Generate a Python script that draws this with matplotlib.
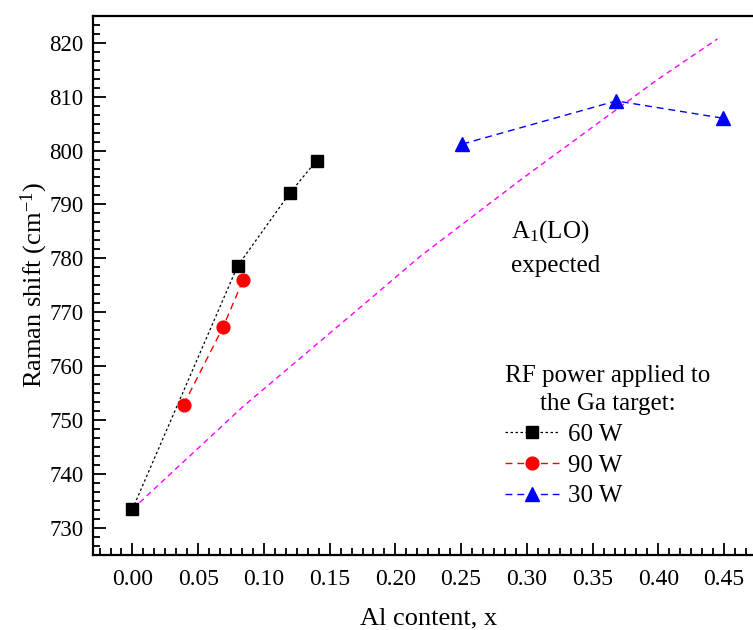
import matplotlib
matplotlib.use("Agg")
import matplotlib.pyplot as plt
from matplotlib.ticker import MultipleLocator, AutoMinorLocator, FormatStrFormatter

plt.rcParams['font.family'] = ['Liberation Serif', 'DejaVu Serif']
plt.rcParams['mathtext.fontset'] = 'custom'
plt.rcParams['mathtext.rm'] = 'Liberation Serif'
plt.rcParams['mathtext.it'] = 'Liberation Serif:italic'

# Al content and A1(LO) Raman shift for each Ga-target RF power
x_60w = [0.0, 0.080, 0.120, 0.140]
y_60w = [733.5, 778.6, 792.2, 798.1]

x_90w = [0.039, 0.069, 0.084]
y_90w = [752.9, 767.3, 775.9]

x_30w = [0.251, 0.368, 0.449]
y_30w = [801.2, 809.2, 806.0]

# expected A1(LO) position versus Al content
x_expected = [0.0, 0.084, 0.180, 0.219, 0.296, 0.399, 0.445]
y_expected = [733.5, 752.5, 772.3, 780.4, 794.7, 813.1, 820.7]

fig = plt.figure(figsize=(7.53, 6.30), dpi=100)
ax = fig.add_axes([93 / 753, 75 / 630, 670.5 / 753, 539.3 / 630])

ax.plot(x_expected, y_expected, color='#ff00ff', lw=1.0, dashes=(4, 3))
ax.plot(x_60w, y_60w, color='black', lw=0.9, dashes=(2, 2),
        marker='s', ms=8.6, mfc='black', mec='black', label='60 W')
ax.plot(x_90w, y_90w, color='red', lw=1.0, dashes=(5, 3.5),
        marker='o', ms=9.2, mfc='red', mec='red', label='90 W')
ax.plot(x_30w, y_30w, color='blue', lw=1.0, dashes=(5, 3.5),
        marker='^', ms=10.5, mfc='blue', mec='blue', label='30 W')

ax.set_xlim(-0.03, 0.48)
ax.set_ylim(725, 825)
ax.xaxis.set_major_locator(MultipleLocator(0.05))
ax.xaxis.set_major_formatter(FormatStrFormatter('%.2f'))
ax.xaxis.set_minor_locator(AutoMinorLocator(6))
ax.yaxis.set_major_locator(MultipleLocator(10))
ax.yaxis.set_minor_locator(AutoMinorLocator(6))

ax.tick_params(which='both', direction='in', top=False, right=False,
               width=1.3)
ax.tick_params(axis='x', labelsize=17)
ax.tick_params(axis='y', labelsize=16.5)
ax.tick_params(which='major', length=9)
ax.tick_params(axis='x', which='major', pad=10)
ax.tick_params(axis='y', which='major', pad=7)
ax.tick_params(which='minor', length=5)
for side in ax.spines.values():
    side.set_linewidth(1.6)

ax.set_xlabel('Al content, x', fontsize=19, labelpad=13)
ax.set_ylabel('Raman shift (cm$^{-1}$)', fontsize=19, labelpad=-1)

ax.text(0.288, 785, 'A$_1$(LO)', fontsize=18, ha='left', va='center')
ax.text(0.288, 778.5, 'expected', fontsize=18, ha='left', va='center')

leg = ax.legend(loc='upper left', bbox_to_anchor=(0.615, 0.352),
                frameon=False, fontsize=18, handlelength=2.15,
                handletextpad=0.35, labelspacing=0.33,
                title='RF power applied to\nthe Ga target:',
                title_fontsize=18, borderaxespad=0, borderpad=0)
leg._legend_box.align = 'left'
leg._legend_box.sep = 6
leg.get_title().set_multialignment('center')
leg.get_title().set_linespacing(1.35)

fig.savefig('out.png', dpi=100)
